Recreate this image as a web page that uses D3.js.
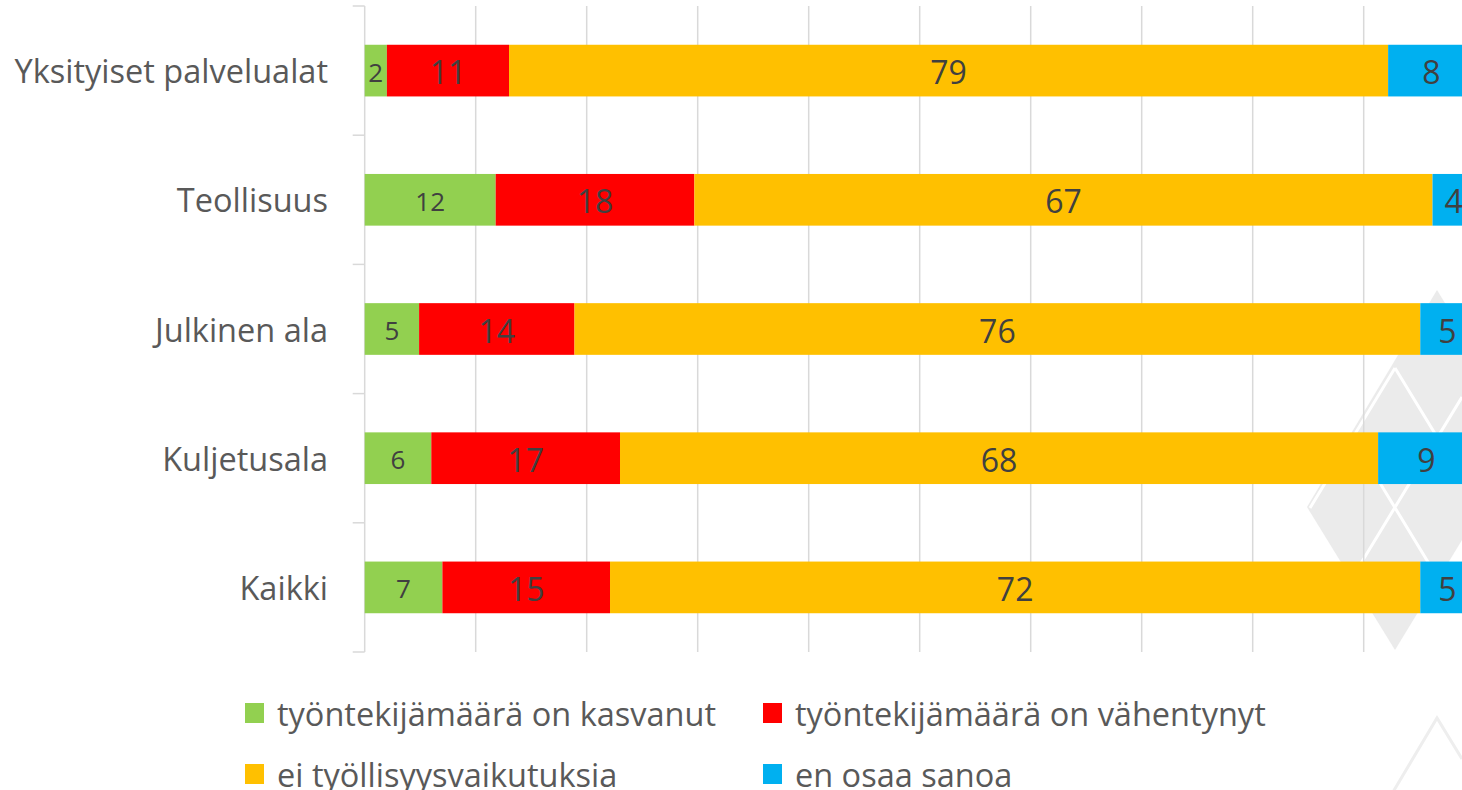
<!DOCTYPE html>
<html><head><meta charset="utf-8">
<script src="https://cdn.jsdelivr.net/npm/d3@7"></script>
<style>html,body{margin:0;padding:0;background:#fff;overflow:hidden}svg{display:block}</style>
</head><body><svg id="c" width="1462" height="790"></svg>
<script>
const categories = ["Yksityiset palvelualat","Teollisuus","Julkinen ala","Kuljetusala","Kaikki"];
const seriesNames = ["työntekijämäärä on kasvanut","työntekijämäärä on vähentynyt","ei työllisyysvaikutuksia","en osaa sanoa"];
// segment lengths
const kasvanut   = [2.0, 11.8, 4.9, 6.0, 7.0];
const vahentynyt = [11.0, 17.9, 14.0, 17.0, 15.1];
const eiVaik     = [79.2, 66.5, 76.2, 68.3, 73.0];
const enOsaa     = [7.8, 3.8, 4.9, 8.7, 4.9];
// data labels as printed on the bars
const kasvanutLbl   = ["2","12","5","6","7"];
const vahentynytLbl = ["11","18","14","17","15"];
const eiVaikLbl     = ["79","67","76","68","72"];
const enOsaaLbl     = ["8","4","5","9","5"];
const seriesColors = ["#92D050","#FF0000","#FFC000","#00B0F0"];
const xTicks = [0,10,20,30,40,50,60,70,80,90,100];

const FONT = "Open Sans, sans-serif";
const svg = d3.select("#c");
const x = d3.scaleLinear().domain([0,100]).range([364.7,1474.7]);
const y = d3.scaleBand().domain(categories).range([6,652]).paddingInner(0.6).paddingOuter(0.3);
const band = d3.scaleBand().domain(categories).range([6,652]);

// decorative watermark
const defs = svg.append("defs");
const shape = "M1437,290 L1462,331 L1462,540 L1395,650 L1307,507 Z";
defs.append("clipPath").attr("id","wmclip").append("path").attr("d",shape);
const wm = svg.append("g");
wm.append("path").attr("d",shape).attr("fill","#ebebeb");
wm.append("path").attr("clip-path","url(#wmclip)")
  .attr("d","M1395,368 L1310,508 M1395,368 L1462,478 M1352,437 L1462,618 M1462,397 L1352,578")
  .attr("fill","none").attr("stroke","#fff").attr("stroke-width",3);
wm.append("path").attr("d","M1393,792 L1437,718 L1462,759").attr("fill","none").attr("stroke","#eeeeee").attr("stroke-width",3);

// gridlines
svg.append("g").selectAll("line").data(xTicks.slice(1)).join("line")
  .attr("x1",d=>x(d)).attr("x2",d=>x(d)).attr("y1",6).attr("y2",652)
  .attr("stroke","#d9d9d9").attr("stroke-width",1.5);

// left axis
const yAxis = d3.axisLeft(band).tickSize(0).tickFormat("");
const ax = svg.append("g").attr("transform",`translate(${x(0)},0)`).call(yAxis);
ax.select(".domain").attr("stroke","#d9d9d9").attr("stroke-width",1.5).attr("d","M0,6V652");
const bounds = categories.map(c=>band(c)).concat([652]);
svg.append("g").selectAll("line").data(bounds).join("line")
  .attr("x1",x(0)-12).attr("x2",x(0)).attr("y1",d=>d).attr("y2",d=>d)
  .attr("stroke","#d9d9d9").attr("stroke-width",1.5);

// category labels
svg.append("g").selectAll("text").data(categories).join("text")
  .attr("x",328).attr("y",d=>band(d)+band.bandwidth()/2)
  .attr("text-anchor","end").attr("dominant-baseline","central")
  .attr("font-family",FONT).attr("font-size",32.5).attr("fill","#595959")
  .text(d=>d);

// stacked data
const labels = [kasvanutLbl, vahentynytLbl, eiVaikLbl, enOsaaLbl];
const rows = categories.map((c,i)=>({cat:c, idx:i, s0:kasvanut[i], s1:vahentynyt[i], s2:eiVaik[i], s3:enOsaa[i]}));
const stack = d3.stack().keys(["s0","s1","s2","s3"])(rows);

const g = svg.append("g");
stack.forEach((layer,li)=>{
  const lg = g.append("g");
  lg.selectAll("rect").data(layer).join("rect")
    .attr("x",d=>x(d[0])).attr("width",d=>x(d[1])-x(d[0]))
    .attr("y",d=>y(d.data.cat)).attr("height",y.bandwidth())
    .attr("fill",seriesColors[li]);
  lg.selectAll("text").data(layer).join("text")
    .attr("x",d=>(x(d[0])+x(d[1]))/2).attr("y",d=>y(d.data.cat)+y.bandwidth()/2+1)
    .attr("text-anchor","middle").attr("dominant-baseline","central")
    .attr("font-family",FONT).attr("font-size",li===0?26:32).attr("fill","#404040")
    .text(d=>labels[li][d.data.idx]);
});

// legend
const legendPos = [[245,713],[763,713],[245,774],[763,774]];
const lg = svg.append("g");
seriesNames.forEach((n,i)=>{
  const [lx,ly]=legendPos[i];
  lg.append("rect").attr("x",lx).attr("y",ly-10).attr("width",19).attr("height",20).attr("fill",seriesColors[i]);
  lg.append("text").attr("x",lx+32).attr("y",ly).attr("dominant-baseline","central")
    .attr("font-family",FONT).attr("font-size",32.5).attr("fill","#595959").text(n);
});
</script></body></html>
